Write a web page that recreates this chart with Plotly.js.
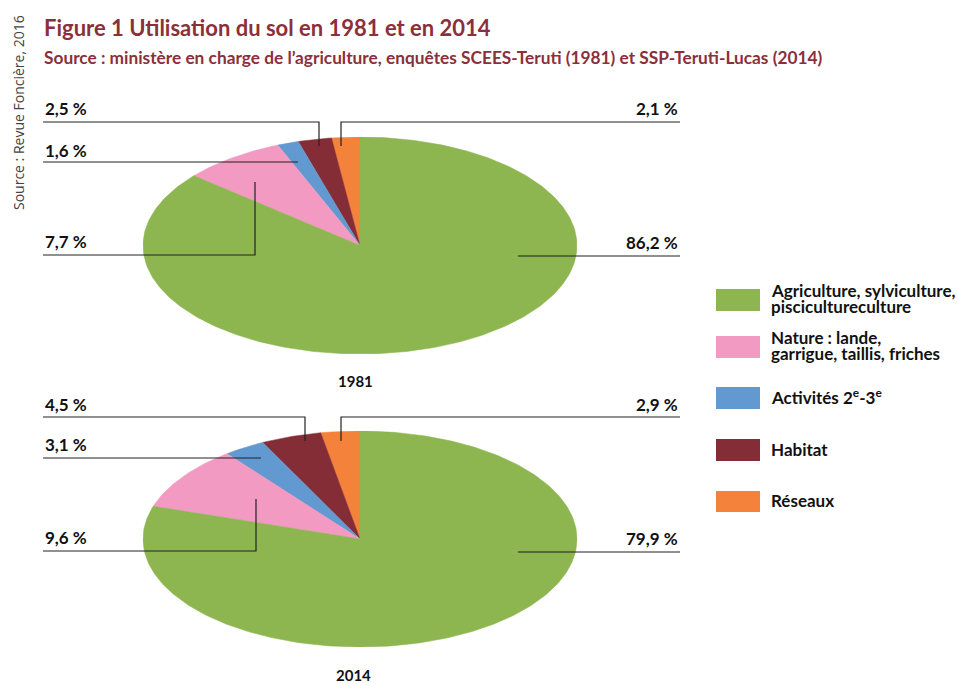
<!DOCTYPE html>
<html><head><meta charset="utf-8">
<script src="https://cdn.plot.ly/plotly-3.0.1.min.js"></script>
<style>html,body{margin:0;padding:0;background:#fff}#chart{width:957px;height:684px}</style>
</head><body><div id="chart"></div>
<script>
// ---- data ----
const categories = ["Réseaux", "Habitat", "Activités 2e-3e", "Nature : lande, garrigue, taillis, friches", "Agriculture, sylviculture, piscicultureculture"];
const legendLabels = ["Agriculture, sylviculture,<br>piscicultureculture", "Nature : lande,<br>garrigue, taillis, friches", "Activités 2<sup>e</sup>-3<sup>e</sup>", "Habitat", "Réseaux"];
const values1981 = [2.1, 2.5, 1.6, 7.7, 86.2];
const values2014 = [2.9, 4.5, 3.1, 9.6, 79.9];
const valueLabels1981 = ["2,1 %", "2,5 %", "1,6 %", "7,7 %", "86,2 %"];
const valueLabels2014 = ["2,9 %", "4,5 %", "3,1 %", "9,6 %", "79,9 %"];
const years = ["1981", "2014"];
const colors = ["#F4823A", "#842D36", "#6399D1", "#F29AC1", "#8DB550"];

// ---- helpers ----
const W = 957, H = 684;
const PX = x => x / W;
const PY = y => 1 - y / H;
const FONT = "Lato, sans-serif";
const RED = "#8B2F3A";

function slices(values, xa, ya) {
  const total = values.reduce((a, b) => a + b, 0);
  let cum = 0;
  const traces = [];
  values.forEach((v, i) => {
    const a0 = cum / total * 2 * Math.PI;
    cum += v;
    const a1 = cum / total * 2 * Math.PI;
    const n = Math.max(3, Math.ceil((a1 - a0) / (Math.PI / 180)));
    const xs = [0], ys = [0];
    for (let k = 0; k <= n; k++) {
      const a = a0 + (a1 - a0) * k / n;
      xs.push(-Math.sin(a)); ys.push(Math.cos(a));
    }
    xs.push(0); ys.push(0);
    traces.push({
      type: "scatter", mode: "lines", x: xs, y: ys, xaxis: xa, yaxis: ya,
      fill: "toself", fillcolor: colors[i], line: {color: colors[i], width: 0.5},
      hoverinfo: "text", text: categories[i] + " " + v, showlegend: false
    });
  });
  return traces;
}

const data = [].concat(slices(values1981, "x", "y"), slices(values2014, "x2", "y2"));

// pie boxes (pixels)
const pies = [{x0: 143, x1: 577, y0: 137, y1: 354}, {x0: 143, x1: 577, y0: 431, y1: 647}];

const axisBase = {range: [-1, 1], visible: false, showgrid: false, zeroline: false, fixedrange: true};
const layout = {
  width: W, height: H, margin: {l: 0, r: 0, t: 0, b: 0},
  paper_bgcolor: "#fff", plot_bgcolor: "rgba(0,0,0,0)", showlegend: false,
  xaxis: Object.assign({}, axisBase, {domain: [PX(pies[0].x0), PX(pies[0].x1)]}),
  yaxis: Object.assign({}, axisBase, {domain: [PY(pies[0].y1), PY(pies[0].y0)]}),
  xaxis2: Object.assign({}, axisBase, {domain: [PX(pies[1].x0), PX(pies[1].x1)], anchor: "y2"}),
  yaxis2: Object.assign({}, axisBase, {domain: [PY(pies[1].y1), PY(pies[1].y0)], anchor: "x2"}),
  shapes: [], annotations: []
};

function ann(text, x, y, opts) {
  layout.annotations.push(Object.assign({
    text: text, x: PX(x), y: PY(y), xref: "paper", yref: "paper", showarrow: false,
    xanchor: "left", yanchor: "middle", font: {family: FONT, size: 17, color: "#111", weight: "bold"}
  }, opts || {}));
}
function line(pts) {
  const d = pts.map((p, i) => (i ? "L" : "M") + PX(p[0]) + "," + PY(p[1])).join(" ");
  layout.shapes.push({type: "path", xref: "paper", yref: "paper", path: d, line: {color: "#222", width: 1.2}});
}

// titles
ann("Figure 1 Utilisation du sol en 1981 et en 2014", 42, 27, {font: {family: FONT, size: 22, color: RED, weight: "bold"}});
ann("Source : ministère en charge de l’agriculture, enquêtes SCEES-Teruti (1981) et SSP-Teruti-Lucas (2014)", 42, 58, {font: {family: FONT, size: 17.3, color: RED, weight: "bold"}});
ann("Source : Revue Foncière, 2016", 18, 113, {textangle: -90, xanchor: "center", font: {family: "Open Sans, sans-serif", size: 14, color: "#444"}});

// value labels + leader lines
const lab = [valueLabels1981, valueLabels2014];
// 1981
ann(lab[0][1], 43, 108);
ann(lab[0][0], 680, 108, {xanchor: "right"});
ann(lab[0][2], 43, 150);
ann(lab[0][3], 43, 241);
ann(lab[0][4], 680, 242, {xanchor: "right"});
line([[43, 122], [319, 122], [319, 146]]);
line([[680, 122], [341, 122], [341, 146]]);
line([[43, 162], [298, 162]]);
line([[43, 255], [255, 255], [255, 182]]);
line([[518, 256], [680, 256]]);
// 2014
ann(lab[1][1], 43, 404);
ann(lab[1][0], 680, 404, {xanchor: "right"});
ann(lab[1][2], 43, 445);
ann(lab[1][3], 43, 537);
ann(lab[1][4], 680, 538, {xanchor: "right"});
line([[43, 417], [305, 417], [305, 441]]);
line([[680, 417], [341, 417], [341, 441]]);
line([[43, 458], [261, 458]]);
line([[43, 551], [256, 551], [256, 499]]);
line([[518, 552], [680, 552]]);

// year labels
ann(years[0], 355, 381, {xanchor: "center", font: {family: FONT, size: 15, color: "#111", weight: "bold"}});
ann(years[1], 353, 675, {xanchor: "center", font: {family: FONT, size: 15, color: "#111", weight: "bold"}});

// legend
const legendRows = [[289, 311], [336, 358], [387, 409], [439, 461], [491, 512]];
const legendColorIdx = [4, 3, 2, 1, 0];
const legFont = {family: FONT, size: 17, color: "#111", weight: "bold"};
legendRows.forEach((r, i) => {
  layout.shapes.push({type: "rect", xref: "paper", yref: "paper", x0: PX(716), x1: PX(760), y0: PY(r[1]), y1: PY(r[0]),
    fillcolor: colors[legendColorIdx[i]], line: {width: 0}});
  const c = (r[0] + r[1]) / 2;
  const parts = legendLabels[i].split("<br>");
  if (parts.length === 1) {
    ann(parts[0], 769, c - 1, {font: legFont});
  } else {
    ann(parts[0], 769, c - 10, {font: legFont});
    ann(parts[1], 769, c + 6, {font: legFont});
  }
});

Plotly.newPlot("chart", data, layout, {displayModeBar: false, staticPlot: true});
</script></body></html>
